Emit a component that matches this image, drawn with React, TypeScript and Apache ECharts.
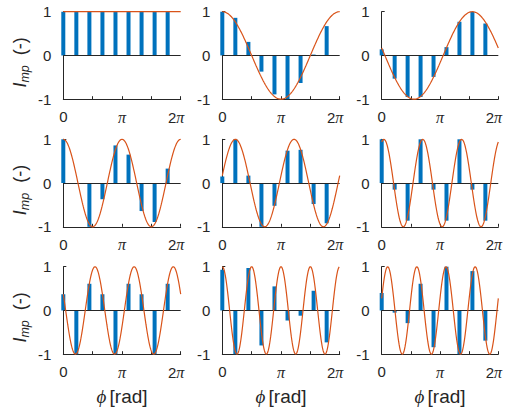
import React, { useEffect, useRef } from "react";
import * as echarts from "echarts";

// ---- data ----
const sampleIndex = [0, 1, 2, 3, 4, 5, 6, 7, 8]; // bar k sits at phi = k * 2π / 9

const barsP1 = [1, 1, 1, 1, 1, 1, 1, 1, 1];
const barsP2 = [1.0, 0.86, 0.31, -0.37, -0.89, -1.0, -0.63, 0.02, 0.67];
const barsP3 = [0.14, -0.53, -0.95, -0.95, -0.49, 0.19, 0.77, 1.0, 0.73];
const barsP4 = [1.0, 0.0, -1.0, -0.37, 0.86, 0.65, -0.64, -0.89, 0.33];
const barsP5 = [0.15, 1.0, 0.17, -1.0, -0.52, 0.74, 0.76, -0.48, -0.92];
const barsP6 = [1.0, -0.15, -0.86, 1.0, -0.15, -0.86, 1.0, -0.15, -0.86];
const barsP7 = [0.37, -1.0, 0.61, 0.37, -1.0, 0.61, 0.37, -1.0, 0.61];
const barsP8 = [0.93, -1.0, 0.97, -0.8, 0.55, -0.23, -0.12, 0.45, -0.73];
const barsP9 = [0.4, -0.05, -0.29, 0.61, -0.84, 1.0, -1.0, 0.9, -0.69];

// reference cosine curves: cos(harmonic * phi + phase)
const modelHarmonic = [0, 1, 1, 2, 2, 3, 3, 4, 4];
const modelPhase = [0, 0, 1.4, 0, -1.4, -0.35, 1.19, 0, -1.29];

const xTickLabels = ["0", "π", "2π"];
const yTickLabels = ["-1", "0", "1"];
const yTitle = ["I", "mp", "(-)"];
const xTitle = ["ϕ", "[rad]"];

const panelBars = [barsP1, barsP2, barsP3, barsP4, barsP5, barsP6, barsP7, barsP8, barsP9];

// ---- layout ----
const colLeft = [63.3, 222.3, 381.7];
const rowTop = [11.7, 139.3, 266.7];
const gridW = 117.4;
const gridH = 87.5;

const BLUE = "#0072BD";
const ORANGE = "#D95319";
const AXIS = "#262626";
const SANS = "'Liberation Sans', Arial, Helvetica, sans-serif";
const SERIF = "'Liberation Serif', 'Times New Roman', serif";

const TWO_PI = 2 * Math.PI;

function buildOption() {
  const grid: any[] = [];
  const xAxis: any[] = [];
  const yAxis: any[] = [];
  const series: any[] = [];

  for (let i = 0; i < 9; i++) {
    const r = Math.floor(i / 3);
    const c = i % 3;
    grid.push({ left: colLeft[c], top: rowTop[r], width: gridW, height: gridH, containLabel: false });

    xAxis.push({
      gridIndex: i,
      type: "value",
      min: 0,
      max: TWO_PI,
      interval: Math.PI / 2,
      axisLine: { show: true, onZero: false, lineStyle: { color: AXIS, width: 1 } },
      axisTick: { show: true, inside: true, length: 3, lineStyle: { color: AXIS, width: 1 } },
      splitLine: { show: false },
      axisLabel: {
        show: true,
        showMinLabel: true,
        showMaxLabel: true,
        margin: 10,
        color: AXIS,
        formatter: (v: number) => {
          if (Math.abs(v) < 1e-6) return `{a|${xTickLabels[0]}}`;
          if (Math.abs(v - Math.PI) < 1e-3) return `{p|${xTickLabels[1]}}`;
          if (Math.abs(v - TWO_PI) < 1e-3) return `{a|2}{q|π}`;
          return "";
        },
        rich: {
          a: { fontFamily: SANS, fontSize: 15, color: AXIS },
          p: { fontFamily: SERIF, fontStyle: "italic", fontSize: 16, color: AXIS },
          q: { fontFamily: SERIF, fontStyle: "italic", fontSize: 16, color: AXIS, padding: [0, 9, 0, 0] },
        },
      },
      name: r === 2 ? `{p|${xTitle[0]}} {a|${xTitle[1]}}` : "",
      nameLocation: "middle",
      nameGap: 33,
      nameTextStyle: {
        rich: {
          p: { fontFamily: SERIF, fontStyle: "italic", fontSize: 19, color: AXIS },
          a: { fontFamily: SANS, fontSize: 19, color: AXIS },
        },
      },
    });

    yAxis.push({
      gridIndex: i,
      type: "value",
      min: -1,
      max: 1,
      interval: 1,
      axisLine: { show: true, onZero: false, lineStyle: { color: AXIS, width: 1 } },
      axisTick: { show: true, inside: true, length: 3, lineStyle: { color: AXIS, width: 1 } },
      splitLine: { show: false },
      axisLabel: {
        show: true,
        margin: 12,
        color: AXIS,
        fontFamily: SANS,
        fontSize: 15,
        formatter: (v: number) => yTickLabels[Math.round(v) + 1],
      },
      name: c === 0 ? `{i|${yTitle[0]}}{s|${yTitle[1]}}{n|  ${yTitle[2]}}` : "",
      nameLocation: "middle",
      nameRotate: 90,
      nameGap: 34,
      nameTextStyle: {
        rich: {
          i: { fontFamily: SANS, fontStyle: "italic", fontSize: 18, color: AXIS, lineHeight: 19 },
          s: {
            fontFamily: SANS,
            fontStyle: "italic",
            fontSize: 12.5,
            color: AXIS,
            lineHeight: 13,
            padding: [11, 0, 0, 0],
          },
          n: { fontFamily: SANS, fontSize: 18, color: AXIS, lineHeight: 19, padding: [0, 14, 0, 0] },
        },
      },
    });

    const vals = panelBars[i];
    series.push({
      type: "bar",
      xAxisIndex: i,
      yAxisIndex: i,
      barWidth: 4,
      itemStyle: { color: BLUE },
      data: sampleIndex.map((k) => [(k * TWO_PI) / 9, vals[k]]),
      z: 2,
      markLine: {
        silent: true,
        symbol: "none",
        label: { show: false },
        lineStyle: { color: AXIS, width: 1, type: "solid" },
        data: [{ yAxis: 0 }],
        z: 3,
      },
    });

    const curve: number[][] = [];
    const N = 240;
    for (let j = 0; j <= N; j++) {
      const x = (j / N) * TWO_PI;
      curve.push([x, Math.cos(modelHarmonic[i] * x + modelPhase[i])]);
    }
    series.push({
      type: "line",
      xAxisIndex: i,
      yAxisIndex: i,
      showSymbol: false,
      symbol: "none",
      clip: false,
      lineStyle: { color: ORANGE, width: 1.2 },
      data: curve,
      z: 4,
    });
  }

  return {
    animation: false,
    backgroundColor: "#ffffff",
    grid,
    xAxis,
    yAxis,
    series,
  };
}

export default function App() {
  const ref = useRef<HTMLDivElement>(null);
  useEffect(() => {
    if (!ref.current) return;
    const chart = echarts.init(ref.current, undefined, { renderer: "svg" });
    chart.setOption(buildOption() as any);
    return () => chart.dispose();
  }, []);
  return (
    <div
      ref={ref}
      style={{ position: "absolute", left: 0, top: 0, width: 505, height: 408, background: "#fff" }}
    />
  );
}
